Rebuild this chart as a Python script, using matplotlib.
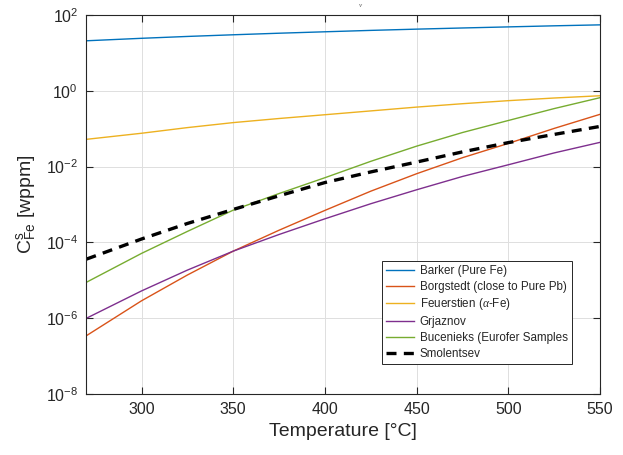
import numpy as np
import matplotlib
matplotlib.use("Agg")
import matplotlib.pyplot as plt

plt.rcParams['font.family'] = ['Liberation Sans', 'DejaVu Sans']
plt.rcParams['mathtext.fontset'] = 'custom'
plt.rcParams['mathtext.rm'] = 'Liberation Sans'
plt.rcParams['mathtext.it'] = 'Liberation Serif:italic'
plt.rcParams['mathtext.bf'] = 'Liberation Sans:bold'

# temperature in degC
T = np.array([270, 300, 325, 350, 375, 400, 425, 450, 475, 500, 525, 550])

# solubility of Fe in wppm
barker = np.array([20.9, 24.3, 27.2, 30.1, 33.1, 36.1, 39.3, 42.4, 45.5, 48.6, 51.9, 55.0])
borgstedt = np.array([3.47e-7, 2.88e-6, 1.38e-5, 5.89e-5, 2.1e-4, 7.0e-4, 2.25e-3, 6.5e-3,
                      1.72e-2, 4.1e-2, 0.102, 0.24])
feuerstien = np.array([0.0525, 0.0759, 0.107, 0.145, 0.186, 0.234, 0.295, 0.372, 0.457, 0.55,
                       0.646, 0.741])
grjaznov = np.array([1.0e-6, 5.25e-6, 1.86e-5, 5.89e-5, 1.62e-4, 4.2e-4, 1.05e-3, 2.45e-3,
                     5.5e-3, 1.12e-2, 2.3e-2, 4.37e-2])
bucenieks = np.array([8.9e-6, 5.13e-5, 1.95e-4, 7.1e-4, 1.95e-3, 5.1e-3, 1.38e-2, 3.47e-2,
                      7.94e-2, 0.165, 0.34, 0.66])
smolentsev = np.array([3.63e-5, 1.23e-4, 3.16e-4, 7.41e-4, 1.70e-3, 3.80e-3, 7.24e-3, 1.32e-2,
                       2.45e-2, 4.3e-2, 7.08e-2, 0.115])

labels = ['Barker (Pure Fe)', 'Borgstedt (close to Pure Pb)', r'Feuerstien ($\alpha$-Fe)',
          'Grjaznov', 'Bucenieks (Eurofer Samples', 'Smolentsev']
colors = ['#0072BD', '#D95319', '#EDB120', '#7E2F8E', '#77AC30']

txt = '#262626'

fig = plt.figure(figsize=(6.23, 4.55), dpi=100)
ax = fig.add_axes([0.1388, 0.134, 0.8244, 0.833])

for y, c, lab in zip([barker, borgstedt, feuerstien, grjaznov, bucenieks], colors, labels[:5]):
    ax.plot(T, y, color=c, lw=1.0, label=lab)
ax.plot(T, smolentsev, 'k--', lw=2.4, dashes=(3, 2.2), label=labels[5])

ax.set_yscale('log')
ax.set_xlim(270, 550)
ax.set_ylim(1e-8, 1e2)
ax.set_xticks([300, 350, 400, 450, 500, 550])
ax.set_yticks([1e-8, 1e-6, 1e-4, 1e-2, 1e0, 1e2])
ax.yaxis.set_minor_locator(matplotlib.ticker.NullLocator())
ax.grid(True, color='#dfdfdf', lw=0.7)
ax.set_axisbelow(True)
ax.tick_params(direction='in', top=True, right=True, length=5, width=0.8,
               labelsize=11.5, colors=txt, pad=6)
for s in ax.spines.values():
    s.set_color(txt)
    s.set_linewidth(0.8)

ax.set_xlabel('Temperature [°C]', fontsize=14, color=txt, labelpad=4)
ax.set_ylabel(r'C$^{\rm s}_{\rm Fe}$ [wppm]', fontsize=14, color=txt, labelpad=5)
ax.text(0.533, 1.02, r'$\nu$', transform=ax.transAxes, fontsize=5, color='#555555',
        ha='center')

leg = ax.legend(loc='lower left', bbox_to_anchor=(0.575, 0.079), fontsize=8.4,
                frameon=True, fancybox=False, framealpha=1, edgecolor=txt,
                handlelength=2.4, labelspacing=0.33, borderpad=0.35, handletextpad=0.5,
                borderaxespad=0)
leg.get_frame().set_linewidth(0.7)
for t in leg.get_texts():
    t.set_color(txt)

fig.savefig('out.png', dpi=100)
